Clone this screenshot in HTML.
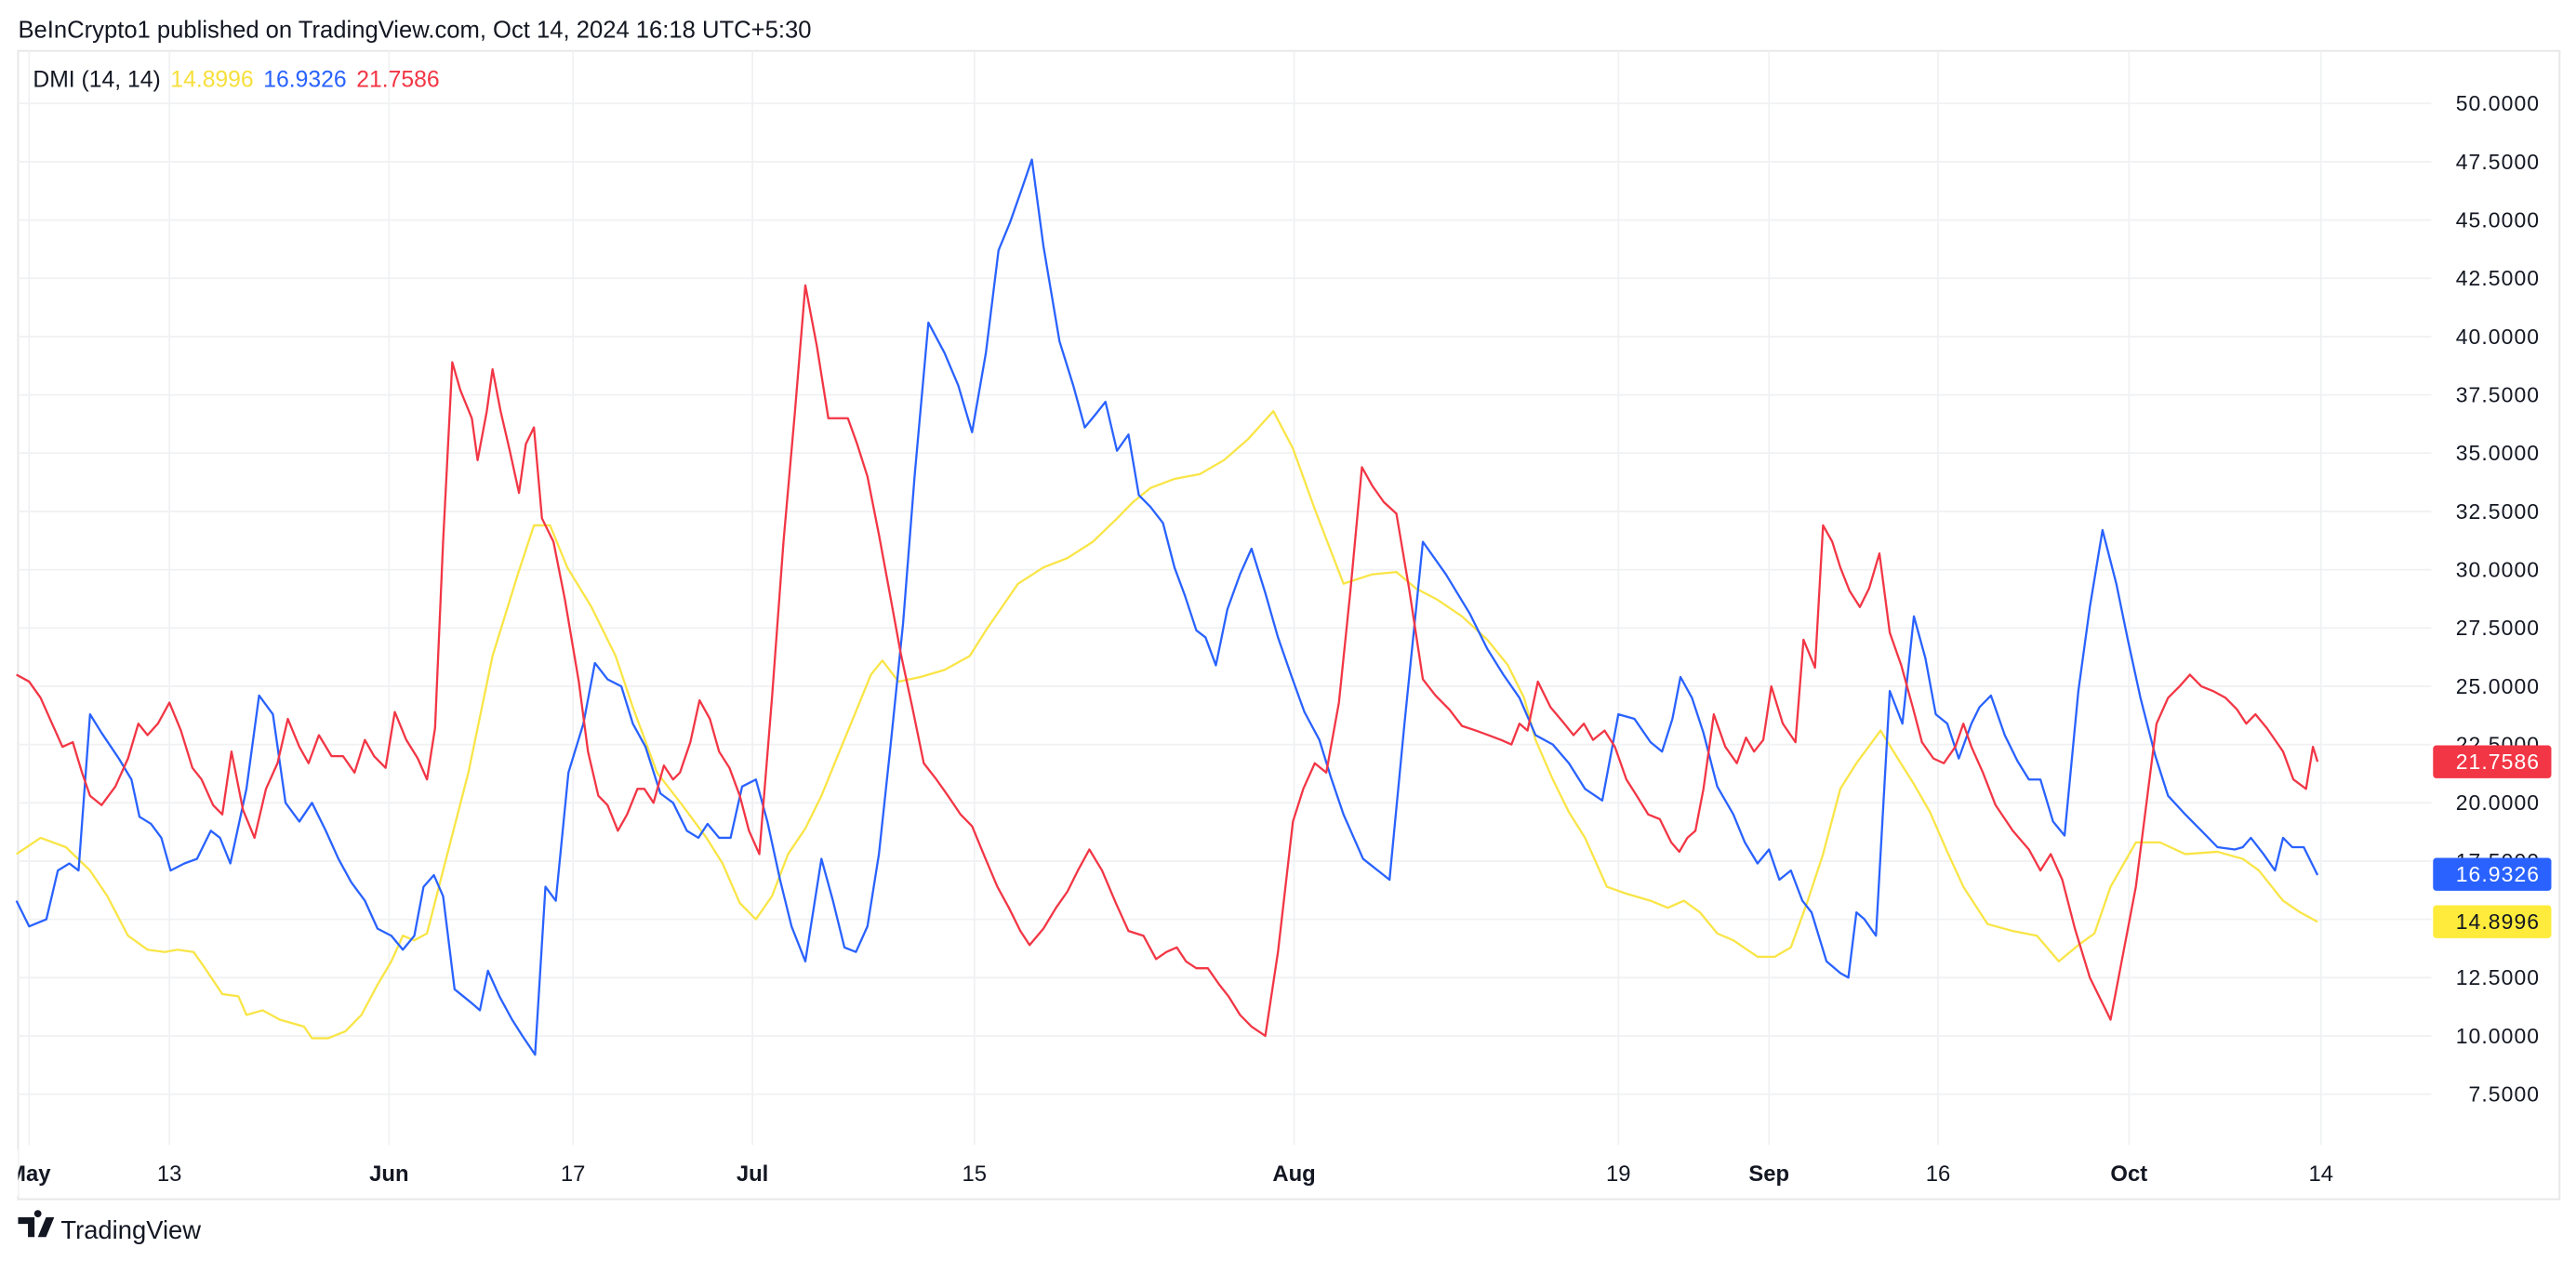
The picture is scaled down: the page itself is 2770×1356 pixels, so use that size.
<!DOCTYPE html>
<html><head><meta charset="utf-8">
<style>
html,body{margin:0;padding:0;background:#fff;}
svg{display:block;}
text{font-family:"Liberation Sans",sans-serif;}
</style></head>
<body>
<svg id="chart" xmlns="http://www.w3.org/2000/svg" width="2770" height="1356" viewBox="0 0 1568 767.6">
  <rect x="0" y="0" width="1568" height="767.6" fill="#fff"/>
  <text x="11" y="23" font-size="14.5" fill="#131722">BeInCrypto1 published on TradingView.com, Oct 14, 2024 16:18 UTC+5:30</text>
  <rect x="11" y="31" width="1547" height="699" fill="none" stroke="#e9e9ea" stroke-width="1.2"/>
  <g id="grid"></g>
  <g id="series"></g>
  <g id="yaxis"></g>
  <g id="xaxis"></g>
  <g id="badges"></g>
  <text x="20" y="53" font-size="14"><tspan fill="#131722">DMI (14, 14)</tspan><tspan dx="6" fill="#F7DF3B">14.8996</tspan><tspan dx="6" fill="#2962FF">16.9326</tspan><tspan dx="6" fill="#F23645">21.7586</tspan></text>
  <g>
    <path d="M11 741 h10 v12 h-4 v-8 h-6z M23 741 a2.2 2.2 0 1 1 0.01 0z M28 741 h5 l-5 12 h-5z" fill="#131722"/>
    <text x="37" y="754" font-size="15.5" fill="#131722">TradingView</text>
  </g>
</svg>
<script>
const yTicks=[50,47.5,45,42.5,40,37.5,35,32.5,30,27.5,25,22.5,20,17.5,15,12.5,10,7.5];
const xTickPos=[1.1,13.3,32.4,48.4,64,83.3,111.1,139.3,152.4,167.1,183.7,200.4];
const xTickLabels=["May","13","Jun","17","Jul","15","Aug","19","Sep","16","Oct","14"];
const xTickBold=[true,false,true,false,true,false,true,false,true,false,true,false];
const adxT=[0,2.1,4.3,6.4,7.9,9.7,11.4,12.9,14,15.4,16.4,17.9,19.3,20,21.4,22.9,25,25.7,27.1,28.6,30,31.4,32.6,33.6,34.6,35.7,37.1,39.3,41.4,43.6,45,46.4,47.9,50,52.1,53.6,55.7,57.9,60,61.4,62.9,64.3,65.7,67.1,68.6,70,71.4,72.9,74.3,75.3,76.7,78.6,80.7,82.9,84.3,85.7,87.1,89.3,91.4,93.6,95.7,97.1,98.6,100.7,102.9,105,107.1,109.3,111,112.9,114.3,115.4,117.9,120,121.7,123.6,125.7,127.9,129.7,131.1,132.1,133.6,135,136.4,138.3,140,142.1,143.6,145,146.4,147.9,149.3,151.4,152.9,154.3,155.7,157.1,158.6,160,162.1,163.6,165,166.4,167.9,169.3,171.4,173.6,175.7,177.6,179.3,180.7,182.1,184.3,186.4,188.6,191.4,193.6,195,197.1,198.6,200.1];
const adxV=[17.8,18.5,18.1,17.1,16.0,14.3,13.7,13.6,13.7,13.6,12.9,11.8,11.7,10.9,11.1,10.7,10.4,9.9,9.9,10.2,10.9,12.2,13.2,14.3,14.1,14.4,17.1,21.3,26.3,29.8,31.9,31.9,30.1,28.4,26.3,24.1,21.3,19.9,18.5,17.4,15.7,15.0,16.0,17.8,18.9,20.3,22.0,23.8,25.5,26.1,25.2,25.4,25.7,26.3,27.4,28.4,29.4,30.1,30.5,31.2,32.2,32.9,33.5,33.9,34.1,34.7,35.6,36.8,35.2,32.6,30.8,29.4,29.8,29.9,29.2,28.7,28.0,27.0,25.9,24.5,22.7,21.0,19.6,18.5,16.4,16.1,15.8,15.5,15.8,15.3,14.4,14.1,13.4,13.4,13.8,15.7,17.8,20.6,21.7,23.1,21.9,20.8,19.6,17.9,16.4,14.8,14.5,14.3,13.2,13.9,14.4,16.4,18.3,18.3,17.8,17.9,17.6,17.1,15.8,15.3,14.9];
const pdiT=[0,1.1,2.6,3.6,4.6,5.4,6.4,7.4,8.9,10,10.7,11.7,12.6,13.4,14.6,15.7,16.9,17.7,18.6,20,21.1,22.3,23.4,24.6,25.7,26.9,28,29.1,30.3,31.4,32.6,33.6,34.6,35.4,36.3,37.1,38.1,39.6,40.3,41,42,43.1,44,45.1,46,46.9,48,49.3,50.3,51.4,52.6,53.6,54.7,56,57.1,58.3,59.3,60.1,61.1,62.1,63.1,64.3,65.3,66.4,67.4,68.6,70,71,72,73,74,75,76,77.1,78.1,79.3,80.7,81.9,83.1,84.3,85.4,86.4,87.4,88.3,89.3,90.7,91.9,92.9,93.9,94.7,95.7,96.7,97.6,98.6,99.7,100.7,101.6,102.6,103.4,104.3,105.3,106.4,107.4,108.6,109.7,110.9,112,113.3,114.3,115.4,117.1,119.4,120.7,122.3,124.3,126.4,127.9,129.3,130.7,132.1,133.6,135,136.4,137.9,139.3,140.7,142.1,143.1,144,144.7,145.7,146.7,147.9,149.3,150.3,151.4,152.4,153.3,154.3,155.3,156.1,157.4,158.6,159.3,160,160.7,161.7,162.9,164,165,166,166.9,167.9,168.9,170,170.7,171.7,172.9,174,175,176,177.1,178.1,179.3,180.3,181.4,182.6,183.6,184.7,186,187.1,188.6,190,191.4,192.9,193.6,194.3,195.4,196.4,197.1,197.9,198.9,200.1];
const pdiV=[15.8,14.7,15.0,17.1,17.4,17.1,23.8,23.0,21.9,21.0,19.4,19.1,18.5,17.1,17.4,17.6,18.8,18.5,17.4,20.6,24.6,23.8,20.0,19.2,20.0,18.8,17.6,16.6,15.8,14.6,14.3,13.7,14.3,16.4,16.9,16.0,12.0,11.4,11.1,12.8,11.7,10.7,10.0,9.2,16.4,15.8,21.3,23.4,26.0,25.3,25.0,23.4,22.4,20.4,20.0,18.8,18.5,19.1,18.5,18.5,20.7,21.0,19.2,16.7,14.7,13.2,17.6,15.8,13.8,13.6,14.7,17.8,22.4,27.7,34.0,40.6,39.3,37.9,35.9,39.3,43.7,44.9,46.3,47.6,43.9,39.8,37.9,36.1,36.7,37.2,35.1,35.8,33.2,32.7,32.0,30.1,28.9,27.4,27.1,25.9,28.3,29.8,30.9,29.0,27.1,25.4,23.9,22.7,21.1,19.5,17.6,16.7,23.4,31.2,29.8,28.1,26.6,25.5,24.5,22.9,22.5,21.7,20.6,20.1,23.8,23.6,22.6,22.2,23.6,25.4,24.5,23.0,20.7,19.5,18.3,17.4,18.0,16.7,17.1,15.8,15.3,13.2,12.7,12.5,15.3,15.0,14.3,24.8,23.4,28.0,26.2,23.8,23.4,21.9,23.4,24.1,24.6,22.9,21.8,21.0,21.0,19.2,18.6,24.8,28.4,31.7,29.4,27.0,24.5,22.0,20.3,19.5,18.8,18.1,18.0,18.1,18.5,17.8,17.1,18.5,18.1,18.1,16.9];
const mdiT=[0,1.1,2.1,3.1,4,4.9,5.7,6.4,7.4,8.6,9.7,10.6,11.4,12.3,13.3,14.3,15.3,16.1,17.1,17.9,18.7,19.7,20.7,21.7,22.7,23.6,24.6,25.4,26.3,27.4,28.4,29.4,30.3,31.1,32.1,32.9,33.9,34.9,35.7,36.4,37.1,37.9,38.6,39.6,40.1,40.9,41.4,42.1,42.9,43.7,44.3,45,45.7,46.7,47.7,48.9,49.7,50.6,51.4,52.3,53.1,54,54.6,55.4,56.3,57.1,57.7,58.6,59.4,60.3,61.1,62,62.9,63.7,64.6,65.7,66.7,67.7,68.6,69.6,70.6,72.3,73.1,74,75,75.9,76.9,77.9,78.9,80,81,82.1,83.1,84.1,85.3,86.3,87.3,88.1,89.3,90.4,91.4,92.3,93.3,94.4,95.6,96.7,98,99.1,100,100.9,101.7,102.6,103.6,104.6,105.4,106.4,107.4,108.6,109.7,111,111.9,112.9,113.9,115,116,117,117.9,118.9,120,121.1,122.3,123.4,124.6,125.7,126.9,128,129.1,130,130.7,131.4,132.3,133.4,134.6,135.4,136.3,137.1,138.1,139,140,140.9,141.9,142.9,143.9,144.6,145.3,146,146.7,147.6,148.6,149.6,150.4,151.1,151.9,152.6,153.6,154.7,155.4,156.4,157.1,157.9,158.6,159.4,160.3,161.1,162,162.9,163.9,164.9,165.7,166.7,167.6,168.6,169.3,170,171,172.1,173.6,175,176,176.9,177.9,179,180.3,182.1,184.3,186.1,187.1,188.1,189,190,191,192.1,193.1,193.9,194.7,195.7,196.4,197.1,198,199.1,199.7,200.1];
const mdiV=[25.5,25.2,24.5,23.4,22.4,22.6,21.3,20.3,19.9,20.7,21.9,23.4,22.9,23.4,24.3,23.1,21.5,21.0,19.9,19.5,22.2,19.7,18.5,20.6,21.7,23.6,22.4,21.7,22.9,22.0,22.0,21.3,22.7,22.0,21.5,23.9,22.7,21.9,21.0,23.2,31.2,38.9,37.7,36.5,34.7,36.8,38.6,36.8,35.1,33.3,35.4,36.1,32.2,31.2,28.7,25.2,22.2,20.3,19.9,18.8,19.5,20.6,20.6,20.0,21.6,21.0,21.3,22.6,24.4,23.6,22.2,21.5,20.3,18.8,17.8,24.5,31.2,36.8,42.2,39.6,36.5,36.5,35.4,34.0,31.5,29.1,26.4,24.1,21.7,21.0,20.3,19.5,19.0,17.8,16.4,15.5,14.5,13.9,14.6,15.5,16.2,17.1,18.0,17.1,15.7,14.5,14.3,13.3,13.6,13.8,13.2,12.9,12.9,12.2,11.7,10.9,10.4,10.0,13.6,19.2,20.6,21.7,21.3,24.3,29.1,34.4,33.6,32.9,32.4,29.2,25.3,24.6,24.0,23.3,23.1,22.9,22.7,22.5,23.4,23.1,25.2,24.1,23.4,22.9,23.4,22.7,23.1,22.4,21.0,20.3,19.5,19.3,18.3,17.9,18.5,18.8,20.6,23.8,22.4,21.7,22.8,22.2,22.7,25.0,23.4,22.6,27.0,25.8,31.9,31.2,30.1,29.1,28.4,29.2,30.7,27.3,25.9,24.1,22.6,21.9,21.7,22.4,23.4,22.4,21.3,19.9,18.8,18.0,17.1,17.8,16.7,14.6,12.5,10.7,16.4,23.4,24.5,25.0,25.5,25.0,24.8,24.5,24.0,23.4,23.8,23.2,22.7,22.2,21.0,20.6,22.4,21.76];
const lastValues=[21.7586,16.9326,14.8996];
const lastLabels=["21.7586","16.9326","14.8996"];

const NS="http://www.w3.org/2000/svg";
const X0=10,XS=7.0,Y0=63,YS=14.19,PLOT_L=11,PLOT_R=1480,PLOT_T=31,PLOT_B=697;
function xs(t){return X0+t*XS;}
function ys(v){return Y0+(50-v)*YS;}
function mk(tag,attrs,parent){const e=document.createElementNS(NS,tag);for(const k in attrs)e.setAttribute(k,attrs[k]);parent.appendChild(e);return e;}

const grid=document.getElementById('grid');
yTicks.forEach(v=>{
  const l=mk('line',{x1:PLOT_L,x2:PLOT_R,y1:ys(v),y2:ys(v),stroke:'#f0f1f3','stroke-width':1},grid);
  
  
});
xTickPos.forEach(t=>{
  const l=mk('line',{x1:xs(t),x2:xs(t),y1:PLOT_T,y2:PLOT_B,stroke:'#f0f1f3','stroke-width':1},grid);
  
  
});

const yaxis=document.getElementById('yaxis');
yTicks.forEach(v=>{
  const t=mk('text',{x:1546,y:ys(v)+4.5,'font-size':13,'text-anchor':'end',fill:'#131722','letter-spacing':'0.6'},yaxis);
  t.textContent=v.toFixed(4);
  
  
});
const xaxis=document.getElementById('xaxis');
xTickPos.forEach((t,i)=>{
  const e=mk('text',{x:xs(t),y:719,'font-size':13.5,'text-anchor':'middle',fill:'#131722','font-weight':xTickBold[i]?'bold':'normal'},xaxis);
  e.textContent=xTickLabels[i];
  
  
});
// clip May label at frame
const cover=mk('rect',{x:0,y:700,width:11,height:28,fill:'#fff'},xaxis);



const series=document.getElementById('series');
function drawLine(T,V,color,name){
  const d=T.map((t,i)=>(i?'L':'M')+xs(t).toFixed(1)+' '+ys(V[i]).toFixed(1)).join(' ');
  const p=mk('path',{d:d,fill:'none',stroke:color,'stroke-width':1.3,'stroke-linejoin':'round'},series);
  
  
}
drawLine(adxT,adxV,'#F9E547','adx-line');
drawLine(pdiT,pdiV,'#2962FF','plus-di-line');
drawLine(mdiT,mdiV,'#F23645','minus-di-line');

const badges=document.getElementById('badges');
const bColors=['#F23645','#2962FF','#FFEB3B'];
const tColors=['#fff','#fff','#131722'];
const bNames=['minus-di-badge','plus-di-badge','adx-badge'];
lastValues.forEach((v,i)=>{
  const g=mk('g',{},badges);
  
  
  mk('rect',{x:1481,y:ys(v)-10,width:72,height:20,rx:2,fill:bColors[i]},g);
  const t=mk('text',{x:1546,y:ys(v)+4.5,'font-size':13,'text-anchor':'end',fill:tColors[i],'letter-spacing':'0.6'},g);
  t.textContent=lastLabels[i];
});
</script>
</body></html>
